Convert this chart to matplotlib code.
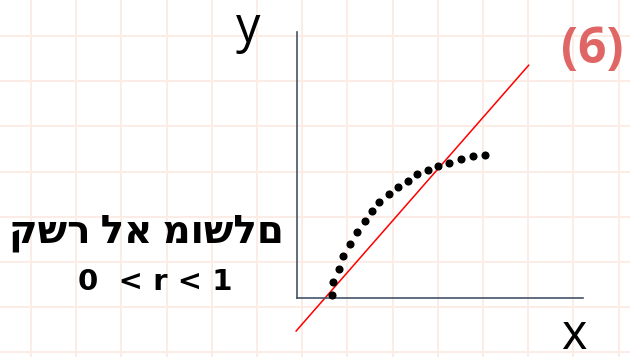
import matplotlib
matplotlib.use("Agg")
import matplotlib.pyplot as plt
import numpy as np

# Data (arbitrary units)
x_pts = [1.23, 1.27, 1.46, 1.62, 1.85, 2.11, 2.37, 2.63, 2.88, 3.21, 3.53, 3.88,
         4.21, 4.58, 4.93, 5.30, 5.72, 6.14, 6.57]
y_pts = [0.10, 0.60, 1.09, 1.58, 2.04, 2.49, 2.91, 3.26, 3.61, 3.91, 4.16, 4.41,
         4.65, 4.81, 4.97, 5.09, 5.23, 5.33, 5.36]
fit_x = [-0.03, 8.10]
fit_y = [-1.24, 8.75]

title_he = "קשר לא מושלם"
subtitle = "0  < r < 1"
panel_label = "(6)"

W, H = 630, 357
fig = plt.figure(figsize=(W / 100, H / 100), dpi=100)
fig.patch.set_facecolor("white")

# background grid paper
bg = fig.add_axes([0, 0, 1, 1])
bg.set_xlim(0, W)
bg.set_ylim(H, 0)
bg.axis("off")
step = 45.2
for gx in np.arange(31 - step, W + step, step):
    bg.axvline(gx, color="#FBEDE5", lw=1.4, zorder=0)
for gy in np.arange(36 - step, H + step, step):
    bg.axhline(gy, color="#FBEDE5", lw=1.4, zorder=0)

# chart axes
left, right, top, bottom = 297, 583, 32, 298
ax = fig.add_axes([left / W, 1 - bottom / H, (right - left) / W, (bottom - top) / H])
ax.set_xlim(0, 10)
ax.set_ylim(0, 10)
ax.patch.set_alpha(0)
for s in ["top", "right"]:
    ax.spines[s].set_visible(False)
for s in ["left", "bottom"]:
    ax.spines[s].set_color("#44546A")
    ax.spines[s].set_linewidth(1.2)
ax.set_xticks([])
ax.set_yticks([])

ax.plot(fit_x, fit_y, color="#FF0000", lw=1.1, clip_on=False, zorder=2)
ax.scatter(x_pts, y_pts, s=34, color="black", clip_on=False, zorder=3, linewidths=0)

fam = ["Open Sans", "DejaVu Sans"]
fig.text(248 / W, 1 - 42 / H, "y", fontsize=35, family=fam, ha="center", va="baseline", color="black")
fig.text(574 / W, 1 - 349 / H, "x", fontsize=35, family=fam, ha="center", va="baseline", color="black")
fig.text(592 / W, 1 - 50 / H, panel_label, fontsize=36, family=fam, fontweight="bold",
         ha="center", va="center", color="#E06666")
fig.text(146 / W, 1 - 243 / H, title_he, fontsize=28, family=fam, fontweight="bold",
         ha="center", va="baseline", color="black")
fig.text(155 / W, 1 - 290 / H, subtitle, fontsize=21, family=["DejaVu Sans"], fontweight="bold",
         ha="center", va="baseline", color="black")

fig.savefig("out.png", dpi=100)
